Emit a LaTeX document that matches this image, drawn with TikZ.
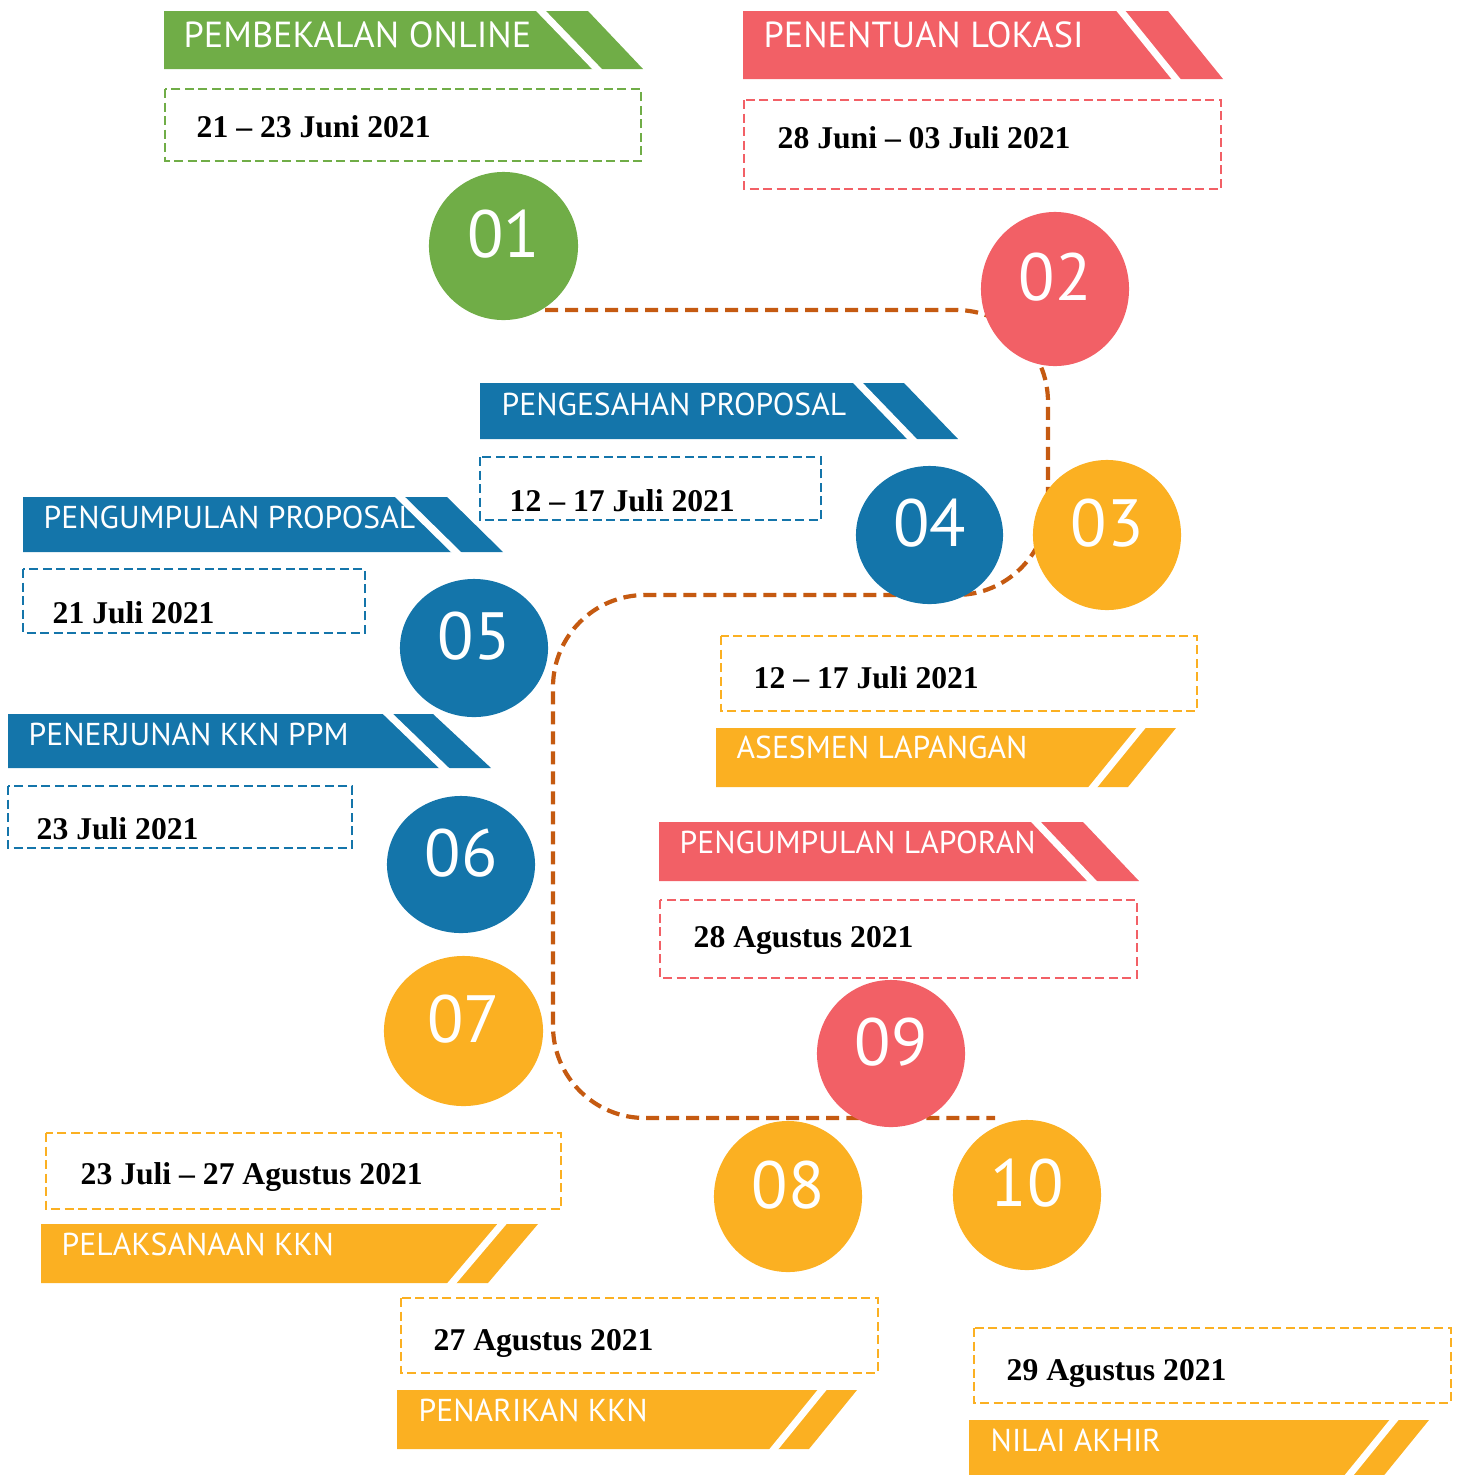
\documentclass[tikz,border=0pt]{standalone}
\usepackage{fontspec}
\setmainfont{Liberation Serif}
\newfontfamily\labelfont{PT Sans}
\usetikzlibrary{shapes.geometric}
\definecolor{kgreen}{HTML}{70AD47}
\definecolor{kred}{HTML}{F26066}
\definecolor{kblue}{HTML}{1475AA}
\definecolor{korange}{HTML}{FBB022}
\definecolor{kroute}{HTML}{C55A11}

\begin{document}
\begin{tikzpicture}[x=0.01cm,y=-0.01cm,
	numdot/.style={ellipse,inner sep=0pt,outer sep=0pt,text=white,font=\labelfont\fontsize{19}{19}\selectfont,text height=0.47cm,text depth=0.24cm},
	bannertext/.style={anchor=base west,inner sep=0pt,text=white,font=\labelfont\fontsize{9}{9}\selectfont},
	bigbannertext/.style={bannertext,font=\labelfont\fontsize{10.3}{10.3}\selectfont},
	datetext/.style={anchor=base west,inner sep=0pt,font=\bfseries\fontsize{9}{9}\selectfont},
	datebox/.style={line width=0.025cm,dash pattern=on 0.09cm off 0.045cm},
	notch/.style={white,line width=0.07cm,shorten <=-0.05cm,shorten >=-0.05cm},
	route/.style={kroute,line width=0.042cm,dash pattern=on 0.13cm off 0.07cm,rounded corners=0.92cm}]
	\useasboundingbox (0,0) rectangle (1461,1475);

	\coordinate (r0) at (545,310);
	\coordinate (r1) at (1048,595);
	\coordinate (r2) at (553,1118);
	\coordinate (r3) at (995,1118);
	\draw[route] (r0) -| (r1) -| (r2) -- (r3);

	\node[numdot,fill=kgreen,minimum width=1.49cm,minimum height=1.48cm] (c01) at (503.5,246) {01};
	\node[numdot,fill=kred,minimum width=1.48cm,minimum height=1.54cm] (c02) at (1055,289) {02};
	\node[numdot,fill=korange,minimum width=1.48cm,minimum height=1.50cm] (c03) at (1107,535) {03};
	\node[numdot,fill=kblue,minimum width=1.47cm,minimum height=1.38cm] (c04) at (929.5,535) {04};
	\node[numdot,fill=kblue,minimum width=1.48cm,minimum height=1.38cm] (c05) at (474,648) {05};
	\node[numdot,fill=kblue,minimum width=1.48cm,minimum height=1.37cm] (c06) at (461,864.5) {06};
	\node[numdot,fill=korange,minimum width=1.59cm,minimum height=1.50cm] (c07) at (463.5,1031) {07};
	\node[numdot,fill=korange,minimum width=1.48cm,minimum height=1.51cm] (c08) at (788,1196.5) {08};
	\node[numdot,fill=kred,minimum width=1.48cm,minimum height=1.47cm] (c09) at (891,1053.5) {09};
	\node[numdot,fill=korange,minimum width=1.48cm,minimum height=1.50cm] (c10) at (1027,1195) {10};

	\fill[kgreen] (164,11) -- (588,11) -- (643,69) -- (164,69) -- cycle;
	\draw[notch] (541,11) -- (597,69);
	\node[bigbannertext] (b01) at (183,47) {PEMBEKALAN ONLINE};
	\draw[datebox,kgreen] (165,89) rectangle (641,161);
	\node[datetext] (d01) at (196,137) {21 -- 23 Juni 2021};

	\fill[kred] (743,11) -- (1168,11) -- (1223,79) -- (743,79) -- cycle;
	\draw[notch] (1121,11) -- (1176,79);
	\node[bigbannertext] (b02) at (763,47) {PENENTUAN LOKASI};
	\draw[datebox,kred] (744,100) rectangle (1221,189);
	\node[datetext] (d02) at (777,148) {28 Juni -- 03 Juli 2021};

	\fill[korange] (716,728) -- (1176,728) -- (1128,787) -- (716,787) -- cycle;
	\draw[notch] (1141,728) -- (1093,787);
	\node[bannertext] (b03) at (736,758) {ASESMEN LAPANGAN};
	\draw[datebox,korange] (721,636) rectangle (1197,711);
	\node[datetext] (d03) at (753,688) {12 -- 17 Juli 2021};

	\fill[kblue] (480,383) -- (904,383) -- (958,439) -- (480,439) -- cycle;
	\draw[notch] (858,383) -- (912,439);
	\node[bannertext] (b04) at (501,415) {PENGESAHAN PROPOSAL};
	\draw[datebox,kblue] (480,457) rectangle (821,520);
	\node[datetext] (d04) at (509,511) {12 -- 17 Juli 2021};

	\fill[kblue] (23,497) -- (447,497) -- (503,552) -- (23,552) -- cycle;
	\draw[notch] (400,497) -- (456,552);
	\node[bannertext] (b05) at (43,528) {PENGUMPULAN PROPOSAL};
	\draw[datebox,kblue] (23,569) rectangle (365,633);
	\node[datetext] (d05) at (52,623) {21 Juli 2021};

	\fill[kblue] (8,714) -- (433,714) -- (491,768) -- (8,768) -- cycle;
	\draw[notch] (388,714) -- (444,768);
	\node[bannertext] (b06) at (28,745) {PENERJUNAN KKN PPM};
	\draw[datebox,kblue] (8,786) rectangle (352,848);
	\node[datetext] (d06) at (36,839) {23 Juli 2021};

	\fill[korange] (41,1224) -- (538,1224) -- (488,1283) -- (41,1283) -- cycle;
	\draw[notch] (502,1224) -- (452,1283);
	\node[bannertext] (b07) at (61,1255) {PELAKSANAAN KKN};
	\draw[datebox,korange] (46,1133) rectangle (561,1209);
	\node[datetext] (d07) at (80,1184) {23 Juli -- 27 Agustus 2021};

	\fill[korange] (397,1390) -- (857,1390) -- (809,1449) -- (397,1449) -- cycle;
	\draw[notch] (822,1390) -- (774,1449);
	\node[bannertext] (b08) at (418,1421) {PENARIKAN KKN};
	\draw[datebox,korange] (401,1298) rectangle (878,1373);
	\node[datetext] (d08) at (433,1350) {27 Agustus 2021};

	\fill[kred] (659,822) -- (1083,822) -- (1139,881) -- (659,881) -- cycle;
	\draw[notch] (1036,822) -- (1092,881);
	\node[bannertext] (b09) at (679,853) {PENGUMPULAN LAPORAN};
	\draw[datebox,kred] (660,900) rectangle (1137,978);
	\node[datetext] (d09) at (693,947) {28 Agustus 2021};

	\fill[korange] (969,1420) -- (1429,1420) -- (1381,1479) -- (969,1479) -- cycle;
	\draw[notch] (1394,1420) -- (1346,1479);
	\node[bannertext] (b10) at (990,1451) {NILAI AKHIR};
	\draw[datebox,korange] (974,1328) rectangle (1451,1403);
	\node[datetext] (d10) at (1006,1380) {29 Agustus 2021};
\end{tikzpicture}
\end{document}
